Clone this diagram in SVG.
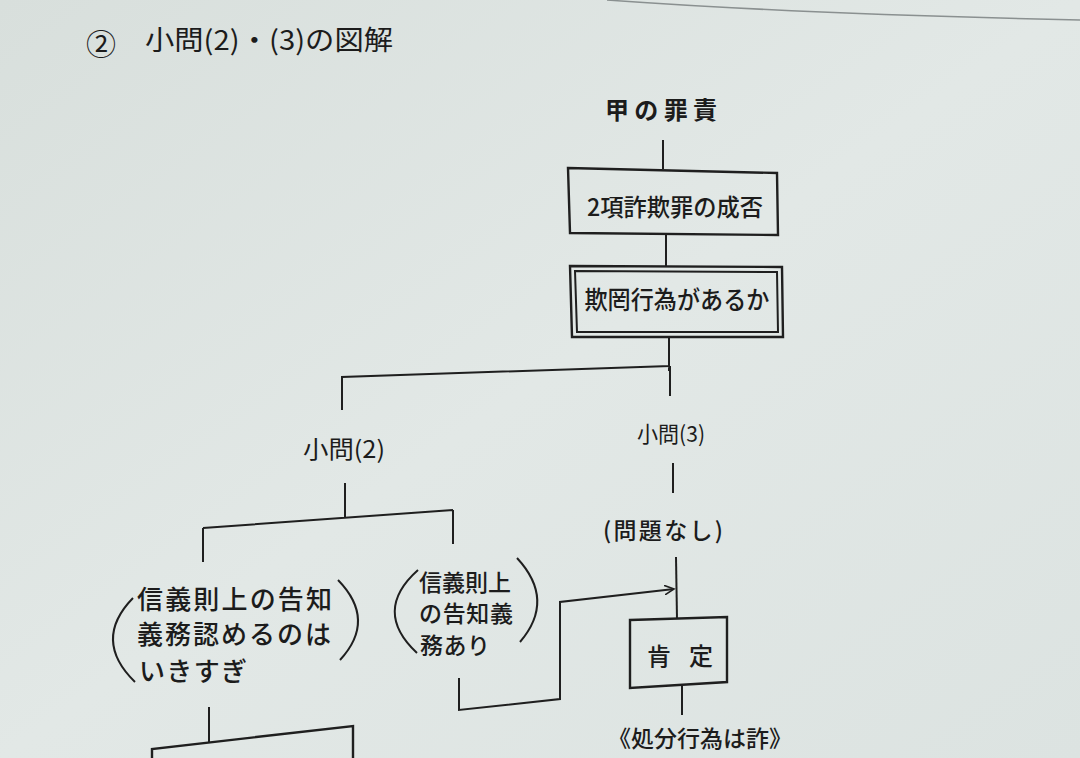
<svg xmlns="http://www.w3.org/2000/svg" width="1080" height="758" viewBox="0 0 1080 758">
<style>
.t{font-family:"Noto Sans CJK JP","Noto Sans",sans-serif;fill:#1c1c1c;dominant-baseline:central;font-weight:500}
.b{font-weight:700}
.r{font-weight:400}
.ln{fill:none;stroke:#1f1f1f;stroke-width:2;stroke-linejoin:miter}
.bx{fill:none;stroke:#1f1f1f;stroke-width:2.4}
</style>
<defs>
<linearGradient id="bg" x1="0" y1="0" x2="1" y2="1">
<stop offset="0" stop-color="#d8dfdc"/>
<stop offset="0.5" stop-color="#e2e8e6"/>
<stop offset="1" stop-color="#dce3e1"/>
</linearGradient>
<marker id="arr" markerWidth="12" markerHeight="10" refX="10" refY="5" orient="auto" markerUnits="userSpaceOnUse">
<path d="M0,0 L10,5 L0,10" fill="none" stroke="#1f1f1f" stroke-width="1.6"/>
</marker>
</defs>
<rect width="1080" height="758" fill="url(#bg)"/>
<path d="M607,0 Q800,14 1080,20" fill="none" stroke="#8a9090" stroke-width="1.5"/>

<g id="title">
<text class="t r" x="101" y="42" font-size="30" text-anchor="middle">②</text>
<text class="t r" x="145" y="38" font-size="27" textLength="248" lengthAdjust="spacingAndGlyphs">小問(2)・(3)の図解</text>
</g>

<g id="connectors">
<line class="ln" x1="663" y1="140" x2="663" y2="169"/>
<line class="ln" x1="666" y1="235" x2="666" y2="266"/>
<path class="ln" d="M669,338 V371 M670,366 L342,377 V410"/>
<line class="ln" x1="670" y1="366" x2="670" y2="396"/>
<line class="ln" x1="673" y1="463" x2="673" y2="493"/>
<path class="ln" d="M345,483 V518 M203,528 L453,510 M203,528 V562 M453,510 V544"/>
<line class="ln" x1="676" y1="557" x2="677" y2="619"/>
<path class="ln" d="M459,678 V710 L560,699 V602 L674,589" marker-end="url(#arr)"/>
<line class="ln" x1="682" y1="686" x2="682" y2="715"/>
<path class="ln" d="M209,707 V743"/>
</g>

<g id="node-koo">
<text class="t b" x="661" y="108" font-size="24" text-anchor="middle" textLength="112" lengthAdjust="spacing">甲の罪責</text>
</g>

<g id="node-seihi">
<polygon class="bx" points="568,168 777,173 778,235 570,233"/>
<text class="t" x="675" y="205" font-size="24" text-anchor="middle" textLength="176" lengthAdjust="spacingAndGlyphs">2項詐欺罪の成否</text>
</g>

<g id="node-kimou">
<polygon class="bx" points="570,266 782,267 783,337 572,337"/>
<polygon class="ln" stroke-width="1.4" points="575,271 777,272 778,332 577,332"/>
<text class="t" x="677" y="298" font-size="25" text-anchor="middle" textLength="185" lengthAdjust="spacingAndGlyphs">欺罔行為があるか</text>
</g>

<g id="node-q2">
<text class="t r" x="344" y="447" font-size="24" text-anchor="middle" textLength="82" lengthAdjust="spacingAndGlyphs">小問(2)</text>
</g>

<g id="node-q3">
<text class="t r" x="671" y="432" font-size="22" text-anchor="middle" textLength="68" lengthAdjust="spacingAndGlyphs">小問(3)</text>
</g>

<g id="node-mondai">
<text class="t" x="663" y="529" font-size="23" text-anchor="middle" textLength="120" lengthAdjust="spacing">(問題なし)</text>
</g>

<g id="node-ikisugi">
<path class="ln" d="M133,598 Q92,640 135,682"/>
<path class="ln" d="M338,580 Q377,620 340,660"/>
<text class="t" x="137" y="597" font-size="26" textLength="195" lengthAdjust="spacing">信義則上の告知</text>
<text class="t" x="137" y="632" font-size="26" textLength="194" lengthAdjust="spacing">義務認めるのは</text>
<text class="t" x="139" y="669" font-size="26" textLength="108" lengthAdjust="spacing">いきすぎ</text>
</g>

<g id="node-ari">
<path class="ln" d="M418,570 Q372,611 417,653"/>
<path class="ln" d="M517,558 Q556,600 520,642"/>
<text class="t" x="419" y="581" font-size="23" textLength="92" lengthAdjust="spacing">信義則上</text>
<text class="t" x="419" y="612" font-size="23" textLength="94" lengthAdjust="spacing">の告知義</text>
<text class="t" x="420" y="644" font-size="23" textLength="70" lengthAdjust="spacing">務あり</text>
</g>

<g id="node-kotei">
<polygon class="bx" points="630,620 727,617 727,682 630,688"/>
<text class="t" x="680" y="654" font-size="24" text-anchor="middle" textLength="66" lengthAdjust="spacing">肯 定</text>
</g>

<g id="node-bottom-left">
<path class="bx" d="M152,758 V749 L353,726 V758"/>
</g>

<g id="node-shobun">
<text class="t" x="700" y="737" font-size="23" text-anchor="middle" textLength="184" lengthAdjust="spacing">《処分行為は詐》</text>
</g>
</svg>
